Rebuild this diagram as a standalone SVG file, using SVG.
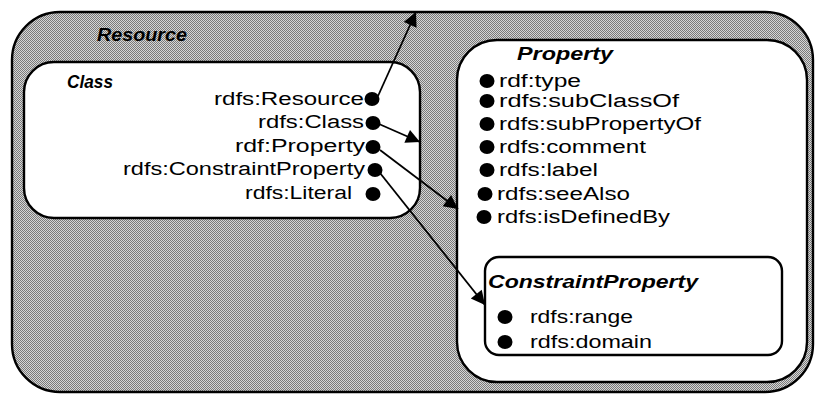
<svg xmlns="http://www.w3.org/2000/svg" width="815" height="396" viewBox="0 0 815 396">
<defs>
<style>
.box{fill:#ffffff;stroke:#000;stroke-width:2.4}
.outer{stroke:#000;stroke-width:2.4}
.title{font-family:"Liberation Sans",Arial,sans-serif;font-weight:bold;font-style:italic;font-size:18px;fill:#000}
.item{font-family:"Liberation Sans",Arial,sans-serif;font-size:18px;fill:#000}
.dot{fill:#000}
.conn{stroke:#000;stroke-width:1.8;fill:none;marker-end:url(#ah)}
</style>
<marker id="ah" viewBox="0 0 10 10" refX="10" refY="5" markerWidth="16" markerHeight="14" markerUnits="userSpaceOnUse" orient="auto">
<path d="M0,0 L10,5 L0,10 z" fill="#000"/>
</marker>
<pattern id="tex" width="2" height="2" patternUnits="userSpaceOnUse">
<rect width="2" height="2" fill="#d6d6d6"/>
<rect x="0" y="0" width="1" height="1" fill="#7a7a7a"/>
<rect x="1" y="1" width="1" height="1" fill="#7a7a7a"/>
</pattern>
</defs>
<rect width="815" height="396" fill="#ffffff"/>

<g id="resource">
<rect class="outer" x="12" y="12" width="801" height="380" rx="48" ry="48" fill="url(#tex)"/>
<text class="title" x="97" y="41" textLength="90" lengthAdjust="spacingAndGlyphs">Resource</text>
</g>

<g id="class">
<rect class="box" x="24" y="62" width="396" height="156" rx="30" ry="30"/>
<text class="title" x="67" y="88" textLength="46" lengthAdjust="spacingAndGlyphs">Class</text>
<text class="item" x="364" y="105" text-anchor="end" textLength="150" lengthAdjust="spacingAndGlyphs">rdfs:Resource</text>
<ellipse class="dot" cx="372" cy="99" rx="7.5" ry="7"/>
<text class="item" x="364" y="128" text-anchor="end" textLength="106" lengthAdjust="spacingAndGlyphs">rdfs:Class</text>
<ellipse class="dot" cx="373" cy="123" rx="7.5" ry="7"/>
<text class="item" x="365" y="152" text-anchor="end" textLength="130" lengthAdjust="spacingAndGlyphs">rdf:Property</text>
<ellipse class="dot" cx="373" cy="147" rx="7.5" ry="7"/>
<text class="item" x="365" y="175" text-anchor="end" textLength="242" lengthAdjust="spacingAndGlyphs">rdfs:ConstraintProperty</text>
<ellipse class="dot" cx="375" cy="170" rx="7.5" ry="7"/>
<text class="item" x="352" y="199" text-anchor="end" textLength="107" lengthAdjust="spacingAndGlyphs">rdfs:Literal</text>
<ellipse class="dot" cx="373" cy="194" rx="7.5" ry="7"/>
</g>

<g id="property">
<rect class="box" x="457" y="40" width="350" height="342" rx="40" ry="40"/>
<text class="title" x="517" y="60" textLength="96" lengthAdjust="spacingAndGlyphs">Property</text>
<ellipse class="dot" cx="487" cy="81" rx="7.5" ry="7"/>
<text class="item" x="499" y="87" textLength="82" lengthAdjust="spacingAndGlyphs">rdf:type</text>
<ellipse class="dot" cx="487" cy="101" rx="7.5" ry="7"/>
<text class="item" x="499" y="107" textLength="180" lengthAdjust="spacingAndGlyphs">rdfs:subClassOf</text>
<ellipse class="dot" cx="487" cy="124" rx="7.5" ry="7"/>
<text class="item" x="499" y="130" textLength="202" lengthAdjust="spacingAndGlyphs">rdfs:subPropertyOf</text>
<ellipse class="dot" cx="487" cy="147" rx="7.5" ry="7"/>
<text class="item" x="499" y="153" textLength="147" lengthAdjust="spacingAndGlyphs">rdfs:comment</text>
<ellipse class="dot" cx="487" cy="170" rx="7.5" ry="7"/>
<text class="item" x="499" y="176" textLength="99" lengthAdjust="spacingAndGlyphs">rdfs:label</text>
<ellipse class="dot" cx="485" cy="194" rx="7.5" ry="7"/>
<text class="item" x="497" y="200" textLength="133" lengthAdjust="spacingAndGlyphs">rdfs:seeAlso</text>
<ellipse class="dot" cx="484" cy="217" rx="7.5" ry="7"/>
<text class="item" x="497" y="223" textLength="173" lengthAdjust="spacingAndGlyphs">rdfs:isDefinedBy</text>
</g>

<g id="constraintproperty">
<rect class="box" x="485" y="257" width="297" height="98" rx="14" ry="14"/>
<text class="title" x="488" y="288" textLength="210" lengthAdjust="spacingAndGlyphs">ConstraintProperty</text>
<ellipse class="dot" cx="505" cy="317" rx="7.5" ry="7"/>
<text class="item" x="530" y="323" textLength="103" lengthAdjust="spacingAndGlyphs">rdfs:range</text>
<ellipse class="dot" cx="505" cy="342" rx="7.5" ry="7"/>
<text class="item" x="530" y="348" textLength="122" lengthAdjust="spacingAndGlyphs">rdfs:domain</text>
</g>

<g id="connectors">
<line class="conn" x1="378" y1="96" x2="416" y2="12"/>
<line class="conn" x1="379" y1="124" x2="420" y2="142"/>
<line class="conn" x1="380" y1="150" x2="458" y2="209"/>
<line class="conn" x1="380" y1="173" x2="485" y2="305"/>
</g>
</svg>
